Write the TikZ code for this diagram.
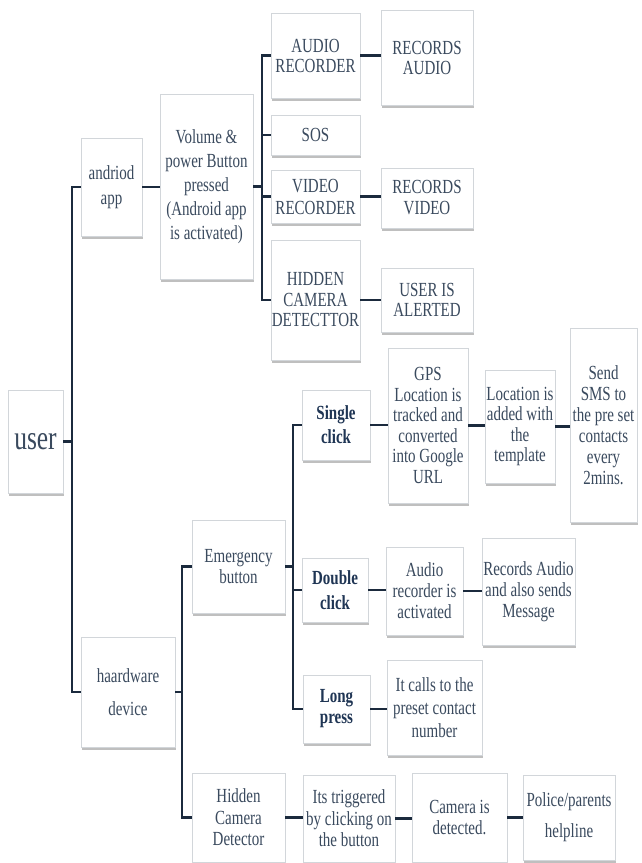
\documentclass[tikz,border=0pt]{standalone}
\usepackage{fontspec}
\setmainfont{Liberation Serif}[FakeStretch=0.75]
\usetikzlibrary{shadows}
\definecolor{txtc}{HTML}{3A4A5E}
\definecolor{boldc}{HTML}{1F3554}
\definecolor{linec}{HTML}{1B2A3D}
\definecolor{edgec}{HTML}{D2D6DA}
\tikzset{
  box/.style={draw=edgec, line width=0.6pt, fill=white, inner sep=0pt, align=center,
    text=txtc, font=\fontsize{20}{21}\selectfont,
    drop shadow={shadow xshift=0.5pt, shadow yshift=-2.5pt, fill=black!45, opacity=0.55}},
  lsp/.style={font=\fontsize{20}{#1}\selectfont},
  bbox/.style={box, text=boldc, font=\fontsize{20}{24}\bfseries\selectfont},
  wh/.style n args={2}{minimum width=#1pt, minimum height=#2pt},
  conn/.style={draw=linec, line width=2.8pt}
}
\begin{document}
\begin{tikzpicture}[x=1pt, y=-1pt]
\fill[white] (0,0) rectangle (642,863);
\useasboundingbox (0,0) rectangle (642,863);

% left part
\node[box, wh={55}{103}, font=\fontsize{34}{36}\selectfont] (user) at (35.5,441.5) {user};
\node[box, wh={61}{98}, lsp=25] (andriod) at (111.5,187) {andriod\\app};
\node[box, wh={93}{185}, lsp=24] (vol) at (206.5,186.5) {Volume \&\\power Button\\pressed\\(Android app\\is activated)};
\node[box, wh={89}{85}, lsp=20] (audiorec) at (315.5,55.5) {AUDIO\\RECORDER};
\node[box, wh={92}{95}, lsp=20] (recaudio) at (427,57.5) {RECORDS\\AUDIO};
\node[box, wh={89}{40}] (sos) at (315.5,135) {SOS};
\node[box, wh={89}{53}, lsp=22] (videorec) at (315.5,196.5) {VIDEO\\RECORDER};
\node[box, wh={92}{60}, lsp=21] (recvideo) at (427,198) {RECORDS\\VIDEO};
\node[box, wh={89}{120}, lsp=20.5] (hiddencam) at (315.5,300) {HIDDEN\\CAMERA\\DETECTTOR};
\node[box, wh={92}{64}, lsp=20] (alerted) at (427,300) {USER IS\\ALERTED};

% hardware part
\node[box, wh={94}{110}, lsp=33] (hardware) at (128,692) {haardware\\device};
\node[box, wh={93}{93}, lsp=21] (emergency) at (238.5,566.5) {Emergency\\button};
\node[bbox, wh={68}{70}] (single) at (336,425) {Single\\click};
\node[box, wh={80}{155}, lsp=20.5] (gps) at (428,425.5) {GPS\\Location is\\tracked and\\converted\\into Google\\URL};
\node[box, wh={70}{113}, lsp=20.5] (locadd) at (520,426.5) {Location is\\added with\\the\\template};
\node[box, wh={67}{194}, lsp=21] (sms) at (603.5,425) {Send\\SMS to\\the pre set\\contacts\\every\\2mins.};
\node[bbox, wh={66}{64}, font=\fontsize{20}{25}\bfseries\selectfont] (double) at (335,590) {Double\\click};
\node[box, wh={77}{88}, lsp=21] (audact) at (424.5,591) {Audio\\recorder is\\activated};
\node[box, wh={93}{107}, lsp=21] (recmsg) at (528.5,591.5) {Records Audio\\and also sends\\Message};
\node[bbox, wh={67}{68}, font=\fontsize{20}{21}\bfseries\selectfont] (long) at (336.5,709) {Long\\press};
\node[box, wh={95}{95}, lsp=23] (calls) at (434.5,707.5) {It calls to the\\preset contact\\number};
\node[box, wh={93}{89}, lsp=21.5] (hcd) at (238.5,817.5) {Hidden\\Camera\\Detector};
\node[box, wh={92}{87}, lsp=21.5] (trig) at (349,818.5) {Its triggered\\by clicking on\\the button};
\node[box, wh={95}{89}, lsp=21] (camdet) at (459.5,817.5) {Camera is\\detected.};
\node[box, wh={92}{85}, lsp=31] (police) at (569,817.5) {Police/parents\\helpline};

% bus coordinates
\coordinate (t1) at (72,0);
\coordinate (b1) at (262,0);
\coordinate (b2) at (182,0);
\coordinate (b3) at (293,0);

% trunk
\draw[conn] (user.east) -- (user.east -| t1);
\draw[conn] (andriod.west) -| (t1 |- hardware.west) -- (hardware.west);

% android branch
\draw[conn] (andriod.east) -- (vol.west |- andriod.east);
\draw[conn] (vol.east) -- (vol.east -| b1);
\draw[conn] (audiorec.west) -| (b1 |- hiddencam.west) -- (hiddencam.west);
\draw[conn] (sos.west) -- (sos.west -| b1);
\draw[conn] (videorec.west) -- (videorec.west -| b1);
\draw[conn] (audiorec.east) -- (recaudio.west |- audiorec.east);
\draw[conn] (videorec.east) -- (recvideo.west |- videorec.east);
\draw[conn] (hiddencam.east) -- (alerted.west |- hiddencam.east);

% hardware branch
\draw[conn] (hardware.east) -- (hardware.east -| b2);
\draw[conn] (emergency.west) -| (b2 |- hcd.west) -- (hcd.west);
\draw[conn] (emergency.east) -- (emergency.east -| b3);
\draw[conn] (single.west) -| (b3 |- long.west) -- (long.west);
\draw[conn] (double.west) -- (double.west -| b3);
\draw[conn] (single.east) -- (gps.west |- single.east);
\draw[conn] (gps.east) -- (locadd.west |- gps.east);
\draw[conn] (locadd.east) -- (sms.west |- locadd.east);
\draw[conn] (double.east) -- (audact.west |- double.east);
\draw[conn] (audact.east) -- (recmsg.west |- audact.east);
\draw[conn] (long.east) -- (calls.west |- long.east);
\draw[conn] (hcd.east) -- (trig.west |- hcd.east);
\draw[conn] (trig.east) -- (camdet.west |- trig.east);
\draw[conn] (camdet.east) -- (police.west |- camdet.east);
\end{tikzpicture}
\end{document}
